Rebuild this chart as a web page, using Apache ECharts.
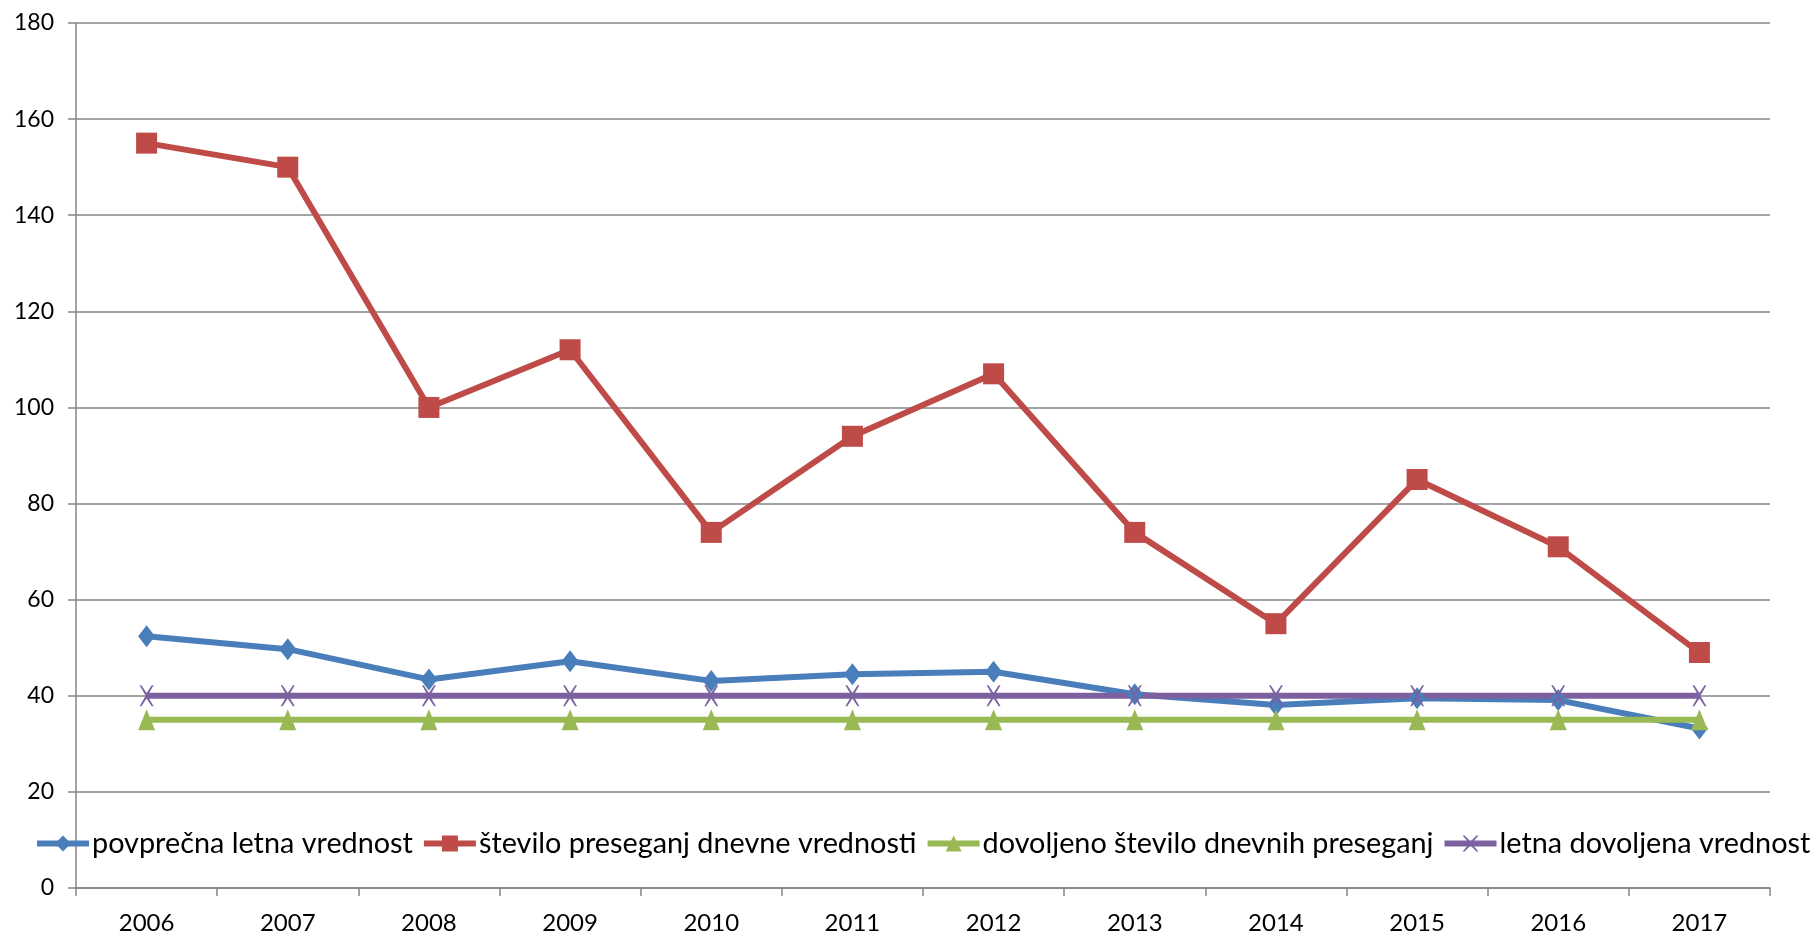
<!DOCTYPE html>
<html>
<head>
<meta charset="utf-8">
<script src="https://cdn.jsdelivr.net/npm/echarts@6/dist/echarts.min.js"></script>
<style>
  html, body { margin: 0; padding: 0; background: #fff; }
  #chart { width: 1818px; height: 935px; }
</style>
</head>
<body>
<div id="chart"></div>
<script>
// Years on the horizontal axis
const years = ['2006', '2007', '2008', '2009', '2010', '2011', '2012', '2013', '2014', '2015', '2016', '2017'];

// Series values
const povprecnaLetna = [52.4, 49.7, 43.4, 47.2, 43.1, 44.5, 45.0, 40.3, 38.1, 39.5, 39.1, 33.2];
const steviloPresegaj = [155, 150, 100, 112, 74, 94, 107, 74, 55, 85, 71, 49];
const dovoljenoStevilo = [35, 35, 35, 35, 35, 35, 35, 35, 35, 35, 35, 35];
const letnaDovoljena = [40, 40, 40, 40, 40, 40, 40, 40, 40, 40, 40, 40];

// Series names
const seriesNames = [
  'povprečna letna vrednost',
  'število preseganj dnevne vrednosti',
  'dovoljeno število dnevnih preseganj',
  'letna dovoljena vrednost'
];

// Y axis range
const yMin = 0, yMax = 180, yStep = 20;

const FONT = 'Lato';
const GRID = '#868686';

// Thin "x" marker drawn as a filled outline
const crossPath = 'path://M0,0L1.3,0L5,7.4L8.7,0L10,0L5.65,10L10,20L8.7,20L5,12.6L1.3,20L0,20L4.35,10Z';

function lineSeries(name, data, color, symbol, size) {
  return {
    name: name,
    type: 'line',
    data: data,
    symbol: symbol,
    symbolSize: size,
    showAllSymbol: true,
    lineStyle: { color: color, width: 6 },
    itemStyle: { color: color, borderWidth: 0 },
    emphasis: { disabled: true },
    animation: false
  };
}

const chart = echarts.init(document.getElementById('chart'));
chart.setOption({
  backgroundColor: '#fff',
  animation: false,
  grid: { left: 76, right: 48, top: 23, bottom: 47, containLabel: false },
  legend: {
    data: seriesNames,
    left: 29,
    top: 824,
    itemWidth: 52,
    itemHeight: 20,
    itemGap: 8,
    lineStyle: { width: 6 },
    textStyle: { fontFamily: FONT, fontSize: 28.8, color: '#000', padding: [0, 0, 0, -2] }
  },
  xAxis: {
    type: 'category',
    data: years,
    boundaryGap: true,
    axisLine: { lineStyle: { color: GRID, width: 1.5 } },
    axisTick: { show: true, length: 8, interval: 0, lineStyle: { color: GRID, width: 1.5 } },
    axisLabel: { fontFamily: FONT, fontSize: 24, color: '#000', margin: 23, interval: 0 },
    splitLine: { show: false }
  },
  yAxis: {
    type: 'value',
    min: yMin,
    max: yMax,
    interval: yStep,
    axisLine: { show: true, lineStyle: { color: GRID, width: 1.5 } },
    axisTick: { show: true, length: 8, lineStyle: { color: GRID, width: 1.5 } },
    axisLabel: { fontFamily: FONT, fontSize: 23, color: '#000', margin: 22 },
    splitLine: { show: true, lineStyle: { color: GRID, width: 1.5 } }
  },
  series: [
    lineSeries(seriesNames[0], povprecnaLetna, '#4A7EBB', 'diamond', [17, 22]),
    lineSeries(seriesNames[1], steviloPresegaj, '#BE4B48', 'rect', [21, 21]),
    lineSeries(seriesNames[2], dovoljenoStevilo, '#98B954', 'triangle', [17, 21]),
    lineSeries(seriesNames[3], letnaDovoljena, '#7D60A0', crossPath, [14, 21])
  ]
});
</script>
</body>
</html>
